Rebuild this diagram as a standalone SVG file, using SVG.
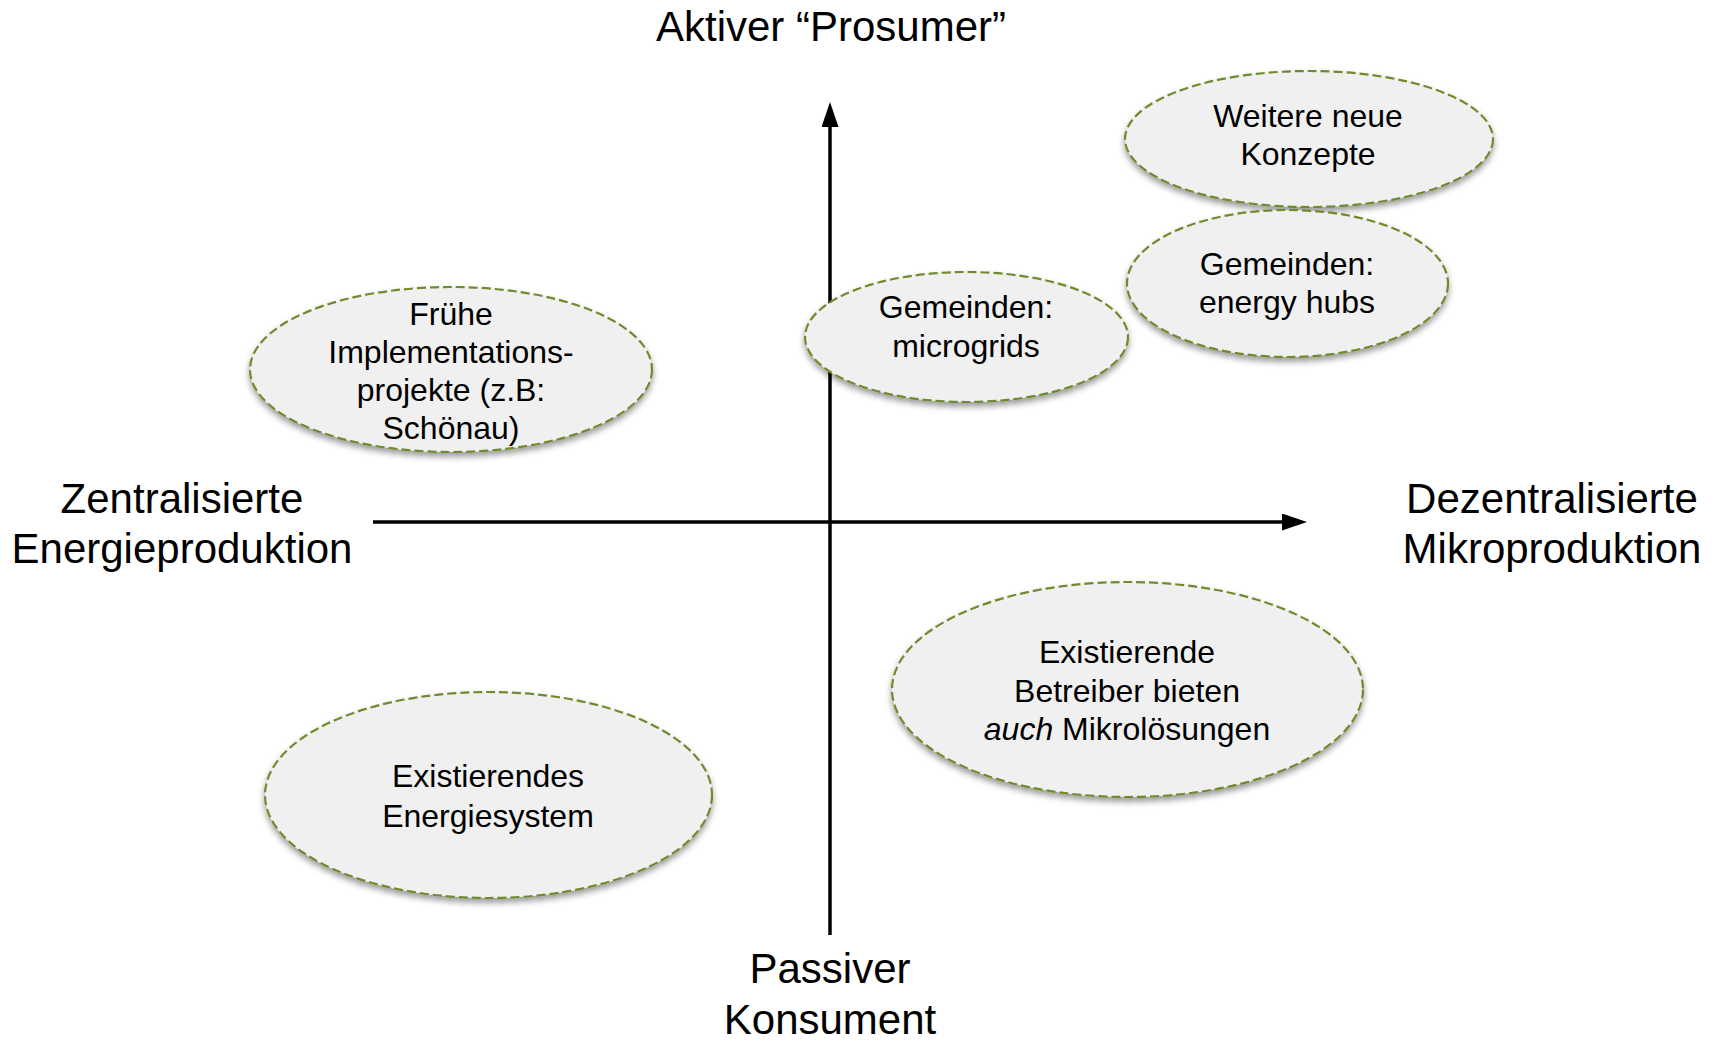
<svg xmlns="http://www.w3.org/2000/svg" width="1719" height="1041" viewBox="0 0 1719 1041">
<style>
.bg{fill:#ffffff}
.axis{stroke:#000;stroke-width:3.5;fill:none}
.node ellipse{fill:#f0f0f0;stroke:#6f8a2e;stroke-width:2.2;stroke-dasharray:9 4;filter:url(#shadow)}
.lbl{font-family:"Liberation Sans",Arial,sans-serif;font-size:42px;fill:#000;text-anchor:middle}
.txt{font-family:"Liberation Sans",Arial,sans-serif;font-size:32px;fill:#000;text-anchor:middle}
</style>
<defs>
<filter id="shadow" x="-10%" y="-10%" width="120%" height="130%">
<feDropShadow dx="0" dy="4" stdDeviation="3" flood-color="#000" flood-opacity="0.4"/>
</filter>
<marker id="arrow" markerUnits="userSpaceOnUse" markerWidth="25" markerHeight="17" refX="18" refY="8.5" orient="auto">
<path d="M0,0 L25,8.5 L0,17 Z" fill="#000"/>
</marker>
</defs>
<rect class="bg" x="0" y="0" width="1719" height="1041"/>
<g id="connectors">
<line class="axis" x1="830" y1="935" x2="830" y2="109" marker-end="url(#arrow)"/>
<line class="axis" x1="373" y1="522" x2="1300" y2="522" marker-end="url(#arrow)"/>
</g>
<g id="axis-labels">
<text class="lbl" x="831" y="41">Aktiver “Prosumer”</text>
<text class="lbl" x="182" y="513">Zentralisierte</text>
<text class="lbl" x="182" y="563">Energieproduktion</text>
<text class="lbl" x="1552" y="513">Dezentralisierte</text>
<text class="lbl" x="1552" y="563">Mikroproduktion</text>
<text class="lbl" x="830" y="983">Passiver</text>
<text class="lbl" x="830" y="1034">Konsument</text>
</g>
<g id="node-weitere" class="node">
<ellipse cx="1309" cy="139" rx="184" ry="68"/>
<text class="txt" x="1308" y="127">Weitere neue</text>
<text class="txt" x="1308" y="165">Konzepte</text>
</g>
<g id="node-hubs" class="node">
<ellipse cx="1287.5" cy="283.5" rx="160.5" ry="73.5"/>
<text class="txt" x="1287" y="275">Gemeinden:</text>
<text class="txt" x="1287" y="313">energy hubs</text>
</g>
<g id="node-microgrids" class="node">
<ellipse cx="966.5" cy="337" rx="161.5" ry="65"/>
<text class="txt" x="966" y="318">Gemeinden:</text>
<text class="txt" x="966" y="357">microgrids</text>
</g>
<g id="node-fruehe" class="node">
<ellipse cx="451" cy="369.5" rx="201" ry="82.5"/>
<text class="txt" x="451" y="325">Frühe</text>
<text class="txt" x="451" y="363">Implementations-</text>
<text class="txt" x="451" y="401">projekte (z.B:</text>
<text class="txt" x="451" y="439">Schönau)</text>
</g>
<g id="node-betreiber" class="node">
<ellipse cx="1127.5" cy="689.5" rx="235.5" ry="107.5"/>
<text class="txt" x="1127" y="663">Existierende</text>
<text class="txt" x="1127" y="702">Betreiber bieten</text>
<text class="txt" x="1127" y="740"><tspan font-style="italic">auch</tspan> Mikrolösungen</text>
</g>
<g id="node-system" class="node">
<ellipse cx="488.5" cy="795" rx="223.5" ry="103"/>
<text class="txt" x="488" y="787">Existierendes</text>
<text class="txt" x="488" y="827">Energiesystem</text>
</g>
</svg>
